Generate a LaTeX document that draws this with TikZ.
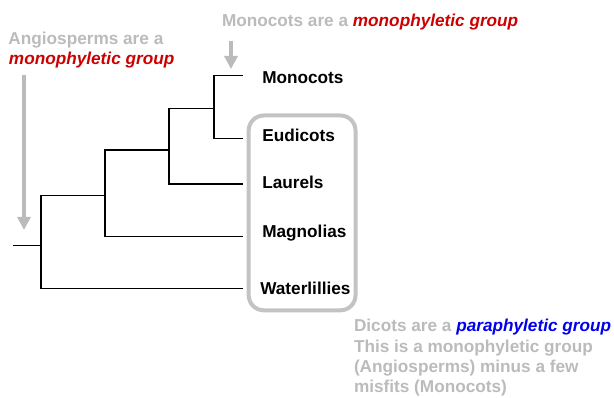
\documentclass[tikz,border=0pt]{standalone}
\usepackage{fontspec}
\setmainfont{Liberation Sans}
\usetikzlibrary{arrows.meta}
\definecolor{txtgray}{RGB}{187,187,187}
\definecolor{boxgray}{RGB}{195,195,195}
\definecolor{hired}{RGB}{204,0,0}
\definecolor{hiblue}{RGB}{0,0,238}
\begin{document}
\begin{tikzpicture}[x=1pt,y=-1pt,
  every node/.style={inner sep=0pt,outer sep=0pt,font=\fontsize{17.2}{20.5}\selectfont\bfseries},
  branch/.style={line width=1.5pt,black},
  taxon/.style={anchor=base west,text=black},
  note/.style={anchor=base west,text=txtgray},
  grayarrow/.style={line width=4pt,txtgray,-{Triangle[width=13pt,length=13pt]}},
  groupbox/.style={draw=boxgray,line width=4pt,rounded corners=15pt}]
\useasboundingbox (0,0) rectangle (614,398);
% tips
\coordinate (tM) at (243,75.5);
\coordinate (tE) at (243,138.3);
\coordinate (tL) at (243,184);
\coordinate (tG) at (243,236.7);
\coordinate (tW) at (243,288.7);
% internal nodes
\coordinate (n1) at (214,108.3);
\coordinate (n2) at (169,150);
\coordinate (n3) at (105,195.7);
\coordinate (root) at (41,245.7);
\coordinate (stem) at (13,245.7);
% branches
\draw[branch] (tM) -| (n1) |- (tE);
\draw[branch] (n1) -| (n2) |- (tL);
\draw[branch] (n2) -| (n3) |- (tG);
\draw[branch] (n3) -| (root) |- (tW);
\draw[branch] (stem) -- (root);
% box
\node[groupbox,minimum width=106.8pt,minimum height=194.8pt] (dicotbox) at (302.1,212.9) {};
% labels
\node[taxon] (lM) at (262.3,83.3) {Monocots};
\node[taxon] (lE) at (262.3,141.7) {Eudicots};
\node[taxon] (lL) at (262.3,188.3) {Laurels};
\node[taxon] (lG) at (262.3,237.5) {Magnolias};
\node[taxon] (lW) at (260.3,295) {Waterlillies};
% notes
\node[note] (monoNote) at (222,26.5) {Monocots are a \textcolor{hired}{\itshape monophyletic group}};
\node[note] (angioNote1) at (8.5,44.3) {Angiosperms are a};
\node[note,text=hired] (angioNote2) at (9,64.5) {\itshape monophyletic group};
\node[note] (dicNote1) at (354,331.7) {Dicots are a \textcolor{hiblue}{\itshape paraphyletic group}};
\node[note] (dicNote2) at (354,352.7) {This is a monophyletic group};
\node[note] (dicNote3) at (354,373) {(Angiosperms) minus a few};
\node[note] (dicNote4) at (354,393) {misfits (Monocots)};
% arrows
\coordinate (a1s) at (231,41);
\coordinate (a1e) at (231,69);
\coordinate (a2s) at (24,75);
\coordinate (a2e) at (24,230);
\draw[grayarrow] (a1s) -- (a1e);
\draw[grayarrow] (a2s) -- (a2e);
\end{tikzpicture}
\end{document}
